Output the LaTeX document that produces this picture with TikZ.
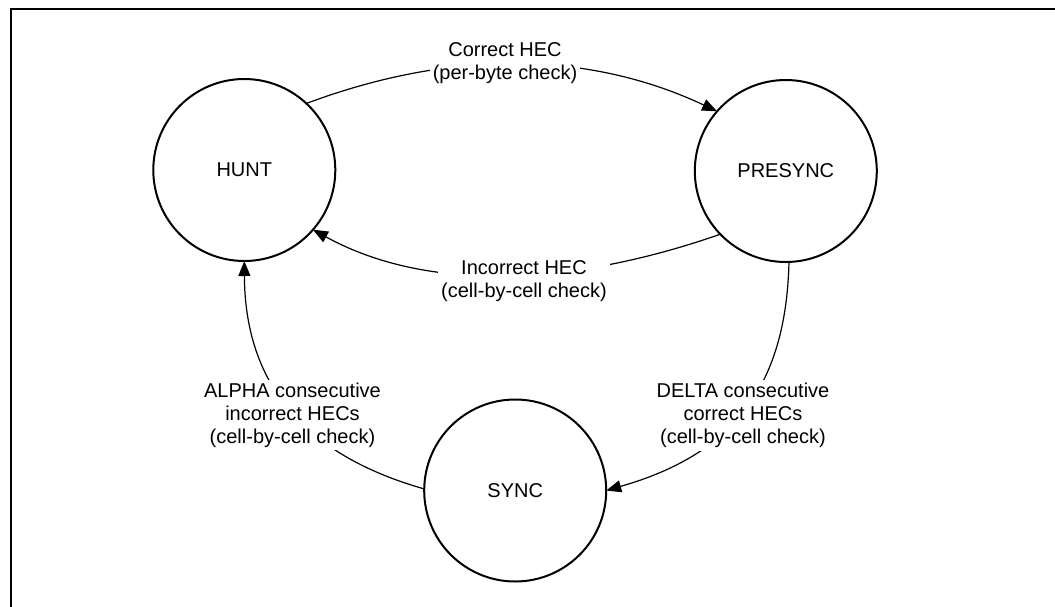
\documentclass[tikz,border=0pt]{standalone}
\usepackage{fontspec}
\setmainfont{Liberation Sans}
\usetikzlibrary{arrows.meta}
\begin{document}
\begin{tikzpicture}[x=1pt,y=-1pt,
  state/.style={circle,draw,line width=2pt,minimum size=182pt,inner sep=0pt,outer sep=0pt,font=\fontsize{20}{23}\selectfont},
  trans/.style={line width=1.2pt,-{Triangle[length=15pt,width=12pt]}},
  lbl/.style={fill=white,align=center,inner sep=3pt,font=\fontsize{20}{23}\selectfont}]
\useasboundingbox (0,0) rectangle (1055,606);
\draw[line width=2pt] (11,9.2) rectangle (1080,640);
\node[state] (hunt) at (244.3,170) {HUNT};
\node[state] (presync) at (785.8,171) {PRESYNC};
\node[state] (sync) at (515.2,490.5) {SYNC};
\draw[trans] (hunt.47) .. controls (455,48) and (591,52) .. (presync.139);
\draw[trans] (presync.224) .. controls (569,287) and (426,292) .. (hunt.-41.6);
\draw[trans] (presync.-88) .. controls (786,390) and (730,455) .. (sync.0);
\draw[trans] (sync.179) .. controls (305,455) and (245,385) .. (hunt.-90);
\node[lbl] (l1) at (505,63.5) {Correct HEC\\(per-byte check)};
\node[lbl] (l2) at (524,281) {Incorrect HEC\\(cell-by-cell check)};
\node[lbl] (l3) at (743,415.5) {DELTA consecutive\\correct HECs\\(cell-by-cell check)};
\node[lbl] (l4) at (292.5,415) {ALPHA consecutive\\incorrect HECs\\(cell-by-cell check)};
\end{tikzpicture}
\end{document}
